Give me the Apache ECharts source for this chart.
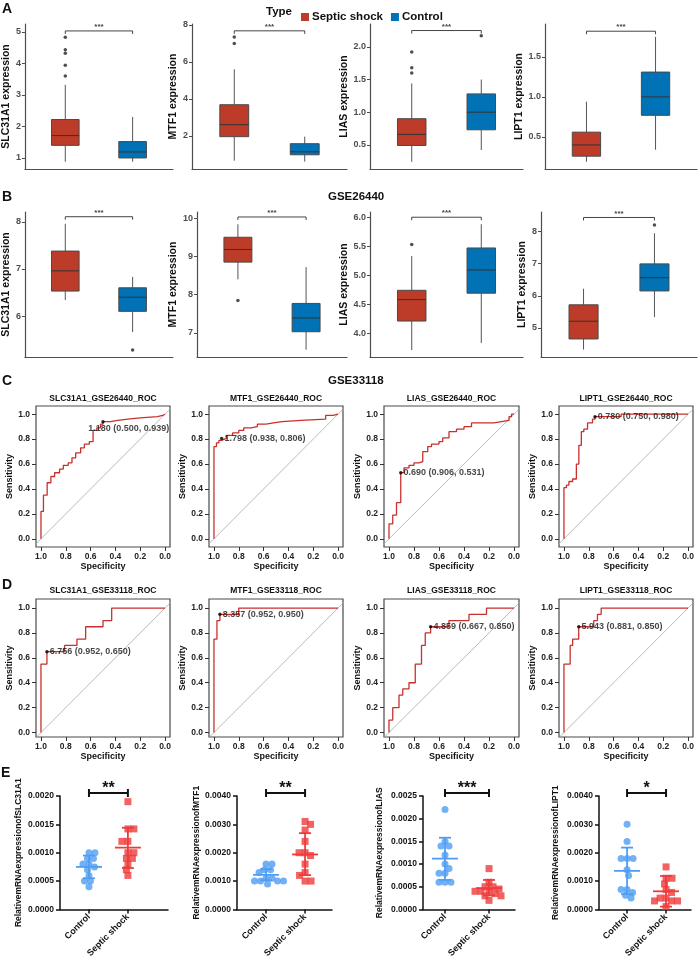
<!DOCTYPE html>
<html>
<head>
<meta charset="utf-8">
<script src="https://cdn.jsdelivr.net/npm/echarts@6.0.0/dist/echarts.min.js"></script>
<style>
html,body{margin:0;padding:0;background:#ffffff;}
#chart{width:698px;height:960px;}
</style>
</head>
<body>
<div id="chart"></div>
<script>
// ================= DATA =================
const genes = ['SLC31A1', 'MTF1', 'LIAS', 'LIPT1'];
const groupNames = ['Septic shock', 'Control'];
const eCategories = ['Control', 'Septic shock'];
const rowTitleB = 'GSE26440';
const rowTitleC = 'GSE33118';
const datasetC = 'GSE26440';
const datasetD = 'GSE33118';

// box statistics: [lower whisker, Q1, median, Q3, upper whisker]
const boxA_septic = [[0.88,1.40,1.71,2.22,3.32],[0.65,1.95,2.60,3.68,5.60],[0.24,0.49,0.66,0.90,1.44],[0.19,0.26,0.40,0.56,0.94]];
const boxA_control = [[0.88,1.00,1.19,1.52,2.30],[0.60,0.97,1.13,1.57,1.95],[0.42,0.73,1.00,1.28,1.50],[0.34,0.77,1.00,1.31,1.75]];
const outA_septic = [[4.83,4.43,4.32,3.94,3.60],[7.35,7.00],[1.92,1.68,1.60],[]];
const outA_control = [[],[],[2.17],[]];
const sigA = ['***','***','***','***'];

const boxB_septic = [[6.34,6.53,6.96,7.38,7.96],[8.40,8.85,9.18,9.50,9.84],[3.71,4.21,4.58,4.74,5.33],[4.33,4.66,5.21,5.72,6.22]];
const boxB_control = [[5.66,6.10,6.40,6.60,6.83],[6.56,7.03,7.39,7.77,8.72],[3.83,4.69,5.09,5.47,5.88],[5.34,6.15,6.56,6.99,7.94]];
const outB_septic = [[],[7.85],[5.53],[]];
const outB_control = [[5.28],[],[],[8.20]];
const sigB = ['***','***','***','***'];

// y-axis tick labels for box plots
const ticksA = [[1,2,3,4,5],[2,4,6,8],[0.5,1.0,1.5,2.0],[0.5,1.0,1.5]];
const ticksB = [[6,7,8],[7,8,9,10],[4.0,4.5,5.0,5.5,6.0],[5,6,7,8]];

// ROC curves [specificity, sensitivity]
const rocC_SLC31A1 = [[1,0],[1,0.22],[0.98,0.22],[0.98,0.35],[0.95,0.35],[0.95,0.45],[0.92,0.45],[0.92,0.50],[0.89,0.50],[0.89,0.53],[0.85,0.53],[0.85,0.56],[0.82,0.56],[0.82,0.59],[0.78,0.59],[0.78,0.61],[0.75,0.61],[0.75,0.65],[0.72,0.65],[0.72,0.69],[0.68,0.69],[0.68,0.73],[0.65,0.73],[0.65,0.76],[0.61,0.76],[0.61,0.78],[0.58,0.78],[0.58,0.87],[0.55,0.87],[0.55,0.89],[0.52,0.89],[0.52,0.92],[0.50,0.92],[0.50,0.94],[0.44,0.94],[0.44,0.95],[0.38,0.95],[0.38,0.96],[0.30,0.96],[0.30,0.97],[0.20,0.97],[0.20,0.98],[0.06,0.98],[0.06,0.99],[0.02,0.99],[0.02,1],[0,1]];
const rocC_MTF1 = [[1,0],[1,0.74],[0.98,0.74],[0.98,0.77],[0.96,0.77],[0.96,0.79],[0.938,0.79],[0.938,0.806],[0.9,0.806],[0.9,0.83],[0.85,0.83],[0.85,0.85],[0.8,0.85],[0.8,0.87],[0.76,0.87],[0.76,0.89],[0.7,0.89],[0.7,0.9],[0.65,0.9],[0.65,0.92],[0.58,0.92],[0.58,0.93],[0.52,0.93],[0.52,0.94],[0.45,0.94],[0.45,0.95],[0.3,0.95],[0.3,0.96],[0.1,0.96],[0.1,0.99],[0.04,0.99],[0.04,1],[0,1]];
const rocC_LIAS = [[1,0],[1,0.12],[0.97,0.12],[0.97,0.19],[0.94,0.19],[0.94,0.29],[0.906,0.29],[0.906,0.531],[0.88,0.531],[0.88,0.57],[0.84,0.57],[0.84,0.59],[0.8,0.59],[0.8,0.61],[0.76,0.61],[0.76,0.62],[0.73,0.62],[0.73,0.70],[0.69,0.70],[0.69,0.74],[0.66,0.74],[0.66,0.76],[0.6,0.76],[0.6,0.78],[0.57,0.78],[0.57,0.81],[0.52,0.81],[0.52,0.86],[0.46,0.86],[0.46,0.88],[0.4,0.88],[0.4,0.9],[0.34,0.9],[0.34,0.93],[0.16,0.93],[0.16,0.94],[0.1,0.94],[0.1,0.95],[0.04,0.95],[0.04,0.98],[0.02,0.98],[0.02,1],[0,1]];
const rocC_LIPT1 = [[1,0],[1,0.41],[0.98,0.41],[0.98,0.43],[0.96,0.43],[0.96,0.46],[0.93,0.46],[0.93,0.48],[0.9,0.48],[0.9,0.6],[0.88,0.6],[0.88,0.75],[0.86,0.75],[0.86,0.86],[0.84,0.86],[0.84,0.88],[0.81,0.88],[0.81,0.93],[0.77,0.93],[0.77,0.96],[0.75,0.96],[0.75,0.98],[0.54,0.98],[0.54,1],[0,1]];
const rocD_SLC31A1 = [[1,0],[1,0.55],[0.952,0.55],[0.952,0.65],[0.81,0.65],[0.81,0.70],[0.71,0.70],[0.71,0.75],[0.64,0.75],[0.64,0.85],[0.5,0.85],[0.5,0.9],[0.43,0.9],[0.43,1],[0,1]];
const rocD_MTF1 = [[1,0],[1,0.75],[0.976,0.75],[0.976,0.9],[0.952,0.9],[0.952,0.95],[0.8,0.95],[0.8,1],[0,1]];
const rocD_LIAS = [[1,0],[1,0.1],[0.97,0.1],[0.97,0.2],[0.92,0.2],[0.92,0.3],[0.89,0.3],[0.89,0.35],[0.84,0.35],[0.84,0.4],[0.79,0.4],[0.79,0.55],[0.74,0.55],[0.74,0.7],[0.71,0.7],[0.71,0.8],[0.667,0.8],[0.667,0.85],[0.52,0.85],[0.52,0.9],[0.36,0.9],[0.36,0.95],[0.22,0.95],[0.22,1],[0,1]];
const rocD_LIPT1 = [[1,0],[1,0.55],[0.95,0.55],[0.95,0.7],[0.93,0.7],[0.93,0.75],[0.881,0.75],[0.881,0.85],[0.76,0.85],[0.76,0.9],[0.73,0.9],[0.73,0.95],[0.7,0.95],[0.7,1],[0,1]];
const rocC = [rocC_SLC31A1, rocC_MTF1, rocC_LIAS, rocC_LIPT1];
const rocD = [rocD_SLC31A1, rocD_MTF1, rocD_LIAS, rocD_LIPT1];

const cutC_thr = ['1.180','1.798','0.690','0.780'];
const cutC_spec = [0.500, 0.938, 0.906, 0.750];
const cutC_sens = [0.939, 0.806, 0.531, 0.980];
const aucC = [0.788, 0.908, 0.749, 0.914];
const cutD_thr = ['6.756','8.357','4.859','5.943'];
const cutD_spec = [0.952, 0.952, 0.667, 0.881];
const cutD_sens = [0.650, 0.950, 0.850, 0.850];
const aucD = [0.854, 0.983, 0.774, 0.936];
const rocTicks = [0, 0.2, 0.4, 0.6, 0.8, 1.0];

// qPCR dot plots
const e_control = [
  [0.0010,0.0010,0.0009,0.0009,0.0008,0.0008,0.00075,0.0007,0.0006,0.0005,0.0005,0.0004],
  [0.0016,0.0016,0.0014,0.0014,0.0013,0.0011,0.0011,0.0010,0.0010,0.0010,0.0010,0.0009],
  [0.0022,0.0015,0.0014,0.0014,0.0012,0.0010,0.0009,0.0008,0.0008,0.0006,0.0006,0.0006],
  [0.0030,0.0024,0.0018,0.0018,0.0018,0.0014,0.0012,0.0007,0.0007,0.0006,0.0005,0.0004]];
const e_septic = [
  [0.0019,0.00142,0.00142,0.0012,0.0012,0.0010,0.0010,0.0009,0.0009,0.0008,0.0007,0.0006],
  [0.0031,0.0030,0.0028,0.0024,0.0020,0.0020,0.0019,0.0016,0.0013,0.0012,0.0010,0.0010],
  [0.0009,0.0006,0.0005,0.0005,0.00045,0.0004,0.0004,0.0004,0.00035,0.0003,0.0003,0.0002],
  [0.0015,0.0011,0.0011,0.0009,0.0007,0.0006,0.0004,0.0004,0.0003,0.0003,0.0003,0.0001]];
const e_mean_control = [0.00075, 0.00122, 0.00112, 0.00136];
const e_sdlo_control = [0.00055, 0.00103, 0.00065, 0.00054];
const e_sdhi_control = [0.00095, 0.00142, 0.00158, 0.00218];
const e_mean_septic = [0.00109, 0.00194, 0.00047, 0.00064];
const e_sdlo_septic = [0.00073, 0.00121, 0.00031, 0.00010];
const e_sdhi_septic = [0.00144, 0.00269, 0.00065, 0.00118];
const e_ticks = [[0,0.0005,0.0010,0.0015,0.0020],[0,0.0010,0.0020,0.0030,0.0040],[0,0.0005,0.0010,0.0015,0.0020,0.0025],[0,0.0010,0.0020,0.0030,0.0040]];
const sigE = ['**','**','***','*'];

// ================= LAYOUT / STYLE =================
const FONT = "'Liberation Sans', Arial, sans-serif";
const C_SEP = '#BC3C29', C_CTL = '#0072B5';
const C_EBLUE = '#4F9DF3', C_ERED = '#EE3B3B';
const L = {
  boxColsA: [[18,173],[192,347],[370,523],[545,697]],
  boxColsB: [[18,173],[197,347],[370,523],[541,697]],
  rowA: [24,169], rowB: [212,357],
  yRangeA: [[0.65,5.25],[0.2,8.05],[0.13,2.35],[0.1,1.91]],
  yRangeB: [[5.13,8.21],[6.37,10.16],[3.59,6.09],[4.1,8.6]],
  decA: [0,0,1,1], decB: [0,0,1,0],
  nameGapA: [8,7,14,14], nameGapB: [8,11,14,8],
  bracketA: [5.03,7.68,2.25,1.82], bracketB: [8.11,10.03,6.0,8.43],
  rocCols: [[36,170],[209,343],[384,519],[559,693]],
  rowC: [406,547], rowD: [599,737],
  yRangeC: [-0.066,1.066], yRangeD: [-0.036,1.073],
  aucPos: [0.5, 0.385],
  eCols: [[60,168],[237,332],[423,515],[599,691]],
  eXRange: [[0.256,3.03],[0.256,2.69],[0.5,2.59],[0.28,2.64]],
  eNameGap: [37,35,39,39],
  rowE: [796,913]
};
const BOX_HALF = 0.205;

const option = {
  animation: false,
  backgroundColor: '#ffffff',
  textStyle: {fontFamily: FONT},
  grid: [], xAxis: [], yAxis: [], series: [], graphic: [],
  legend: {
    left: 296, top: 6, itemWidth: 8, itemHeight: 8, itemGap: 8, selectedMode: false,
    icon: 'rect', data: groupNames,
    textStyle: {fontSize: 11.5, fontWeight: 'bold', color: '#111', fontFamily: FONT, padding: [0,0,0,-2]}
  }
};

function addGrid(cols, rows, extra) {
  option.grid.push(Object.assign({left: cols[0], top: rows[0], width: cols[1]-cols[0], height: rows[1]-rows[0], containLabel: false}, extra || {}));
  return option.grid.length - 1;
}

function boxRender(color) {
  return function (params, api) {
    const x = api.value(0), lo = api.value(1), q1 = api.value(2), md = api.value(3), q3 = api.value(4), hi = api.value(5);
    const a = api.coord([x - BOX_HALF, q3]), b = api.coord([x + BOX_HALF, q1]);
    const m1 = api.coord([x - BOX_HALF, md]), m2 = api.coord([x + BOX_HALF, md]);
    const t1 = api.coord([x, hi]), t2 = api.coord([x, q3]), u1 = api.coord([x, q1]), u2 = api.coord([x, lo]);
    const ls = {stroke: '#555555', lineWidth: 1};
    return {type: 'group', children: [
      {type: 'line', shape: {x1: t1[0], y1: t1[1], x2: t2[0], y2: t2[1]}, style: ls},
      {type: 'line', shape: {x1: u1[0], y1: u1[1], x2: u2[0], y2: u2[1]}, style: ls},
      {type: 'rect', shape: {x: a[0], y: a[1], width: b[0]-a[0], height: b[1]-a[1]}, style: {fill: color, stroke: '#4a4a4a', lineWidth: 1}},
      {type: 'line', shape: {x1: m1[0], y1: m1[1], x2: m2[0], y2: m2[1]}, style: {stroke: '#333333', lineWidth: 1}}
    ]};
  };
}

function bracketSeries(gi, x1, x2, yVal, sig, o) {
  return {
    type: 'custom', xAxisIndex: gi, yAxisIndex: gi, silent: true, z: 6, data: [[x1, x2, yVal]],
    renderItem: function (params, api) {
      const p1 = api.coord([api.value(0), api.value(2)]), p2 = api.coord([api.value(1), api.value(2)]);
      const y = p1[1] - o.lift;
      const st = {stroke: o.color, lineWidth: o.lw};
      return {type: 'group', children: [
        {type: 'line', shape: {x1: p1[0], y1: y, x2: p2[0], y2: y}, style: st},
        {type: 'line', shape: {x1: p1[0], y1: y - o.capUp, x2: p1[0], y2: y + o.capDown}, style: st},
        {type: 'line', shape: {x1: p2[0], y1: y - o.capUp, x2: p2[0], y2: y + o.capDown}, style: st},
        {type: 'text', x: (p1[0]+p2[0])/2, y: y + o.textShift, style: {text: sig, fill: o.color, font: o.font, align: 'center', verticalAlign: 'bottom'}}
      ]};
    }
  };
}

// ---------- box plot rows ----------
function boxRow(cols, rows, yRanges, ticks, decs, gaps, septic, control, outS, outC, brackets, sigs) {
  for (let i = 0; i < 4; i++) {
    const gi = addGrid(cols[i], rows);
    option.xAxis.push({gridIndex: gi, type: 'value', min: 0.4, max: 2.6,
      axisLine: {show: true, onZero: false, lineStyle: {color: '#4d4d4d', width: 1.2}},
      axisTick: {show: false}, axisLabel: {show: false}, splitLine: {show: false}});
    option.yAxis.push({gridIndex: gi, type: 'value', min: yRanges[i][0], max: yRanges[i][1],
      axisLine: {show: true, onZero: false, lineStyle: {color: '#4d4d4d', width: 1.2}},
      axisTick: {show: true, length: 3, customValues: ticks[i], lineStyle: {color: '#4d4d4d'}},
      axisLabel: {customValues: ticks[i], formatter: (v) => Number(v).toFixed(decs[i]), color: '#4D4D4D', fontSize: 9, fontWeight: 'bold', margin: 4},
      splitLine: {show: false},
      name: genes[i] + ' expression', nameLocation: 'middle', nameGap: gaps[i],
      nameTextStyle: {fontSize: 10.5, fontWeight: 'bold', color: '#111'}});
    option.series.push({type: 'custom', name: groupNames[0], xAxisIndex: gi, yAxisIndex: gi, silent: true,
      itemStyle: {color: C_SEP}, data: [[1].concat(septic[i])], renderItem: boxRender(C_SEP)});
    option.series.push({type: 'custom', name: groupNames[1], xAxisIndex: gi, yAxisIndex: gi, silent: true,
      itemStyle: {color: C_CTL}, data: [[2].concat(control[i])], renderItem: boxRender(C_CTL)});
    const pts = outS[i].map(v => [1, v]).concat(outC[i].map(v => [2, v]));
    option.series.push({type: 'scatter', name: 'outliers', xAxisIndex: gi, yAxisIndex: gi, silent: true,
      symbolSize: 3.5, itemStyle: {color: '#222'}, data: pts, z: 4});
    option.series.push(bracketSeries(gi, 1, 2, brackets[i], sigs[i],
      {lift: 0, capUp: 0, capDown: 3, lw: 1, color: '#444', font: 'bold 8px ' + FONT, textShift: 0}));
  }
}
boxRow(L.boxColsA, L.rowA, L.yRangeA, ticksA, L.decA, L.nameGapA, boxA_septic, boxA_control, outA_septic, outA_control, L.bracketA, sigA);
boxRow(L.boxColsB, L.rowB, L.yRangeB, ticksB, L.decB, L.nameGapB, boxB_septic, boxB_control, outB_septic, outB_control, L.bracketB, sigB);

// ---------- ROC rows ----------
function rocRow(rows, yRange, curves, thr, spec, sens, auc, dataset, titleY) {
  for (let i = 0; i < 4; i++) {
    const cols = L.rocCols[i];
    const gi = addGrid(cols, rows, {show: true, borderColor: '#4a4a4a', borderWidth: 1.2, backgroundColor: 'transparent'});
    option.xAxis.push({gridIndex: gi, type: 'value', inverse: true, min: -0.04, max: 1.04,
      axisLine: {show: false, onZero: false},
      axisTick: {show: true, length: 4, customValues: rocTicks, lineStyle: {color: '#333'}},
      axisLabel: {customValues: rocTicks, formatter: (v) => Number(v).toFixed(1), fontSize: 8.5, fontWeight: 'bold', color: '#222', margin: 5},
      splitLine: {show: false},
      name: 'Specificity', nameLocation: 'middle', nameGap: 14,
      nameTextStyle: {fontSize: 9, fontWeight: 'bold', color: '#111'}});
    option.yAxis.push({gridIndex: gi, type: 'value', min: yRange[0], max: yRange[1],
      axisLine: {show: false, onZero: false},
      axisTick: {show: true, length: 4, customValues: rocTicks, lineStyle: {color: '#333'}},
      axisLabel: {customValues: rocTicks, formatter: (v) => Number(v).toFixed(1), fontSize: 8.5, fontWeight: 'bold', color: '#222', margin: 6},
      splitLine: {show: false},
      name: 'Sensitivity', nameLocation: 'middle', nameGap: 19,
      nameTextStyle: {fontSize: 9, fontWeight: 'bold', color: '#111'}});
    option.series.push({type: 'line', xAxisIndex: gi, yAxisIndex: gi, silent: true, symbol: 'none', clip: true,
      lineStyle: {color: '#A8A8A8', width: 0.8}, data: [[1.1, -0.1], [-0.1, 1.1]], z: 2});
    option.series.push({type: 'line', xAxisIndex: gi, yAxisIndex: gi, silent: true, symbol: 'none',
      lineStyle: {color: '#C8302C', width: 1.3}, data: curves[i], z: 3});
    const below = (i === 0 && rows === L.rowC);
    option.series.push({type: 'scatter', xAxisIndex: gi, yAxisIndex: gi, silent: true, symbolSize: 3.5,
      itemStyle: {color: '#000'}, z: 5,
      data: [[spec[i], sens[i]]],
      label: {show: true, formatter: thr[i] + ' (' + spec[i].toFixed(3) + ', ' + sens[i].toFixed(3) + ')',
        position: below ? [-13, 4] : 'right', distance: 1, align: 'left', verticalAlign: below ? 'top' : 'middle',
        fontSize: 9, fontWeight: 'bold', color: '#151515'}});
    option.series.push({type: 'scatter', xAxisIndex: gi, yAxisIndex: gi, silent: true, symbolSize: 1,
      itemStyle: {opacity: 0}, z: 5, data: [[L.aucPos[0], L.aucPos[1]]],
      label: {show: true, formatter: 'AUC: ' + auc[i].toFixed(3), position: 'right', distance: 0,
        fontSize: 9, fontWeight: 'bold', color: '#B22222'}});
    option.graphic.push({type: 'text', x: (cols[0]+cols[1])/2, y: titleY, silent: true,
      style: {text: genes[i] + '_' + dataset + '_ROC', font: 'bold 8.5px ' + FONT, fill: '#111', align: 'center', verticalAlign: 'middle'}});
  }
}
rocRow(L.rowC, L.yRangeC, rocC, cutC_thr, cutC_spec, cutC_sens, aucC, datasetC, 399);
rocRow(L.rowD, L.yRangeD, rocD, cutD_thr, cutD_spec, cutD_sens, aucD, datasetD, 591);

// ---------- qPCR dot plots ----------
// simple beeswarm layout (pixel-space collision avoidance)
function swarm(vals, center, pxY, pxX, d) {
  const sorted = vals.slice().sort((a, b) => b - a);
  const placed = [], out = [];
  let flip = 1;
  sorted.forEach(v => {
    const y = v * pxY;
    for (let k = 0; k < 400; k++) {
      const cands = k === 0 ? [0] : [flip * k * 0.5, -flip * k * 0.5];
      let found = null;
      for (const x of cands) {
        if (placed.every(p => Math.hypot(p[0] - x, p[1] - y) >= d)) { found = x; break; }
      }
      if (found !== null) {
        placed.push([found, y]);
        out.push([center + found / pxX, v]);
        if (found !== 0) flip = -Math.sign(found);
        break;
      }
    }
  });
  return out;
}

function meanSdSeries(gi, x, mean, lo, hi, color) {
  return {type: 'custom', xAxisIndex: gi, yAxisIndex: gi, silent: true, z: 6, data: [[x, mean, lo, hi]],
    renderItem: function (params, api) {
      const c = api.coord([api.value(0), api.value(1)]);
      const l = api.coord([api.value(0), api.value(2)]);
      const h = api.coord([api.value(0), api.value(3)]);
      const st = {stroke: color, lineWidth: 1.8};
      return {type: 'group', children: [
        {type: 'line', shape: {x1: c[0]-13, y1: c[1], x2: c[0]+13, y2: c[1]}, style: st},
        {type: 'line', shape: {x1: l[0], y1: l[1], x2: h[0], y2: h[1]}, style: st},
        {type: 'line', shape: {x1: l[0]-6, y1: l[1], x2: l[0]+6, y2: l[1]}, style: st},
        {type: 'line', shape: {x1: h[0]-6, y1: h[1], x2: h[0]+6, y2: h[1]}, style: st}
      ]};
    }};
}

for (let i = 0; i < 4; i++) {
  const cols = L.eCols[i];
  const gi = addGrid(cols, L.rowE);
  const ticks = e_ticks[i];
  const yMax = ticks[ticks.length-1];
  const xr = L.eXRange[i];
  option.xAxis.push({gridIndex: gi, type: 'value', min: xr[0], max: xr[1],
    axisLine: {show: true, onZero: false, lineStyle: {color: '#111', width: 1.5}},
    axisTick: {show: true, length: 4, customValues: [1, 2], lineStyle: {color: '#111', width: 1.5}},
    axisLabel: {customValues: [1, 2], formatter: (v) => eCategories[Math.round(v)-1], rotate: 45,
      fontSize: 9, fontWeight: 'bold', color: '#111', margin: 6},
    splitLine: {show: false}});
  option.yAxis.push({gridIndex: gi, type: 'value', min: 0, max: yMax,
    axisLine: {show: true, onZero: false, lineStyle: {color: '#111', width: 1.5}},
    axisTick: {show: true, length: 4, customValues: ticks, lineStyle: {color: '#111', width: 1.5}},
    axisLabel: {customValues: ticks, formatter: (v) => Number(v).toFixed(4), fontSize: 8.5, fontWeight: 'bold', color: '#111', margin: 6},
    splitLine: {show: false},
    name: 'RelativemRNAexpressionof' + genes[i], nameLocation: 'middle', nameGap: L.eNameGap[i],
    nameTextStyle: {fontSize: 8.5, fontWeight: 'bold', color: '#111'}});
  const pxY = (L.rowE[1]-L.rowE[0]) / yMax;
  const pxX = (cols[1]-cols[0]) / (xr[1]-xr[0]);
  option.series.push({type: 'scatter', name: 'Control qPCR', xAxisIndex: gi, yAxisIndex: gi, silent: true,
    symbol: 'circle', symbolSize: 7, itemStyle: {color: C_EBLUE}, z: 3, clip: false,
    data: swarm(e_control[i], 1, pxY, pxX, 6)});
  option.series.push({type: 'scatter', name: 'Septic qPCR', xAxisIndex: gi, yAxisIndex: gi, silent: true,
    symbol: 'rect', symbolSize: 7, itemStyle: {color: C_ERED}, z: 3, clip: false,
    data: swarm(e_septic[i], 2, pxY, pxX, 6)});
  option.series.push(meanSdSeries(gi, 1, e_mean_control[i], e_sdlo_control[i], e_sdhi_control[i], C_EBLUE));
  option.series.push(meanSdSeries(gi, 2, e_mean_septic[i], e_sdlo_septic[i], e_sdhi_septic[i], C_ERED));
  option.series.push(bracketSeries(gi, 1, 2, yMax, sigE[i],
    {lift: 3, capUp: 4, capDown: 4, lw: 2, color: '#111', font: 'bold 16px ' + FONT, textShift: 4}));
}

// ---------- texts ----------
function txt(x, y, s, font, align) {
  option.graphic.push({type: 'text', x: x, y: y, silent: true,
    style: {text: s, font: font, fill: '#111', align: align || 'left', verticalAlign: 'middle'}});
}
const letterFont = 'bold 14px ' + FONT;
txt(2, 9, 'A', letterFont); txt(2, 197, 'B', letterFont); txt(2, 381, 'C', letterFont);
txt(2, 585, 'D', letterFont); txt(1, 773, 'E', letterFont);
txt(266, 12, 'Type', 'bold 11.5px ' + FONT);
txt(328, 197, rowTitleB, 'bold 11.5px ' + FONT);
txt(328, 381, rowTitleC, 'bold 11.5px ' + FONT);

const chart = echarts.init(document.getElementById('chart'), null, {renderer: 'canvas', width: 698, height: 960});
chart.setOption(option);
</script>
</body>
</html>
